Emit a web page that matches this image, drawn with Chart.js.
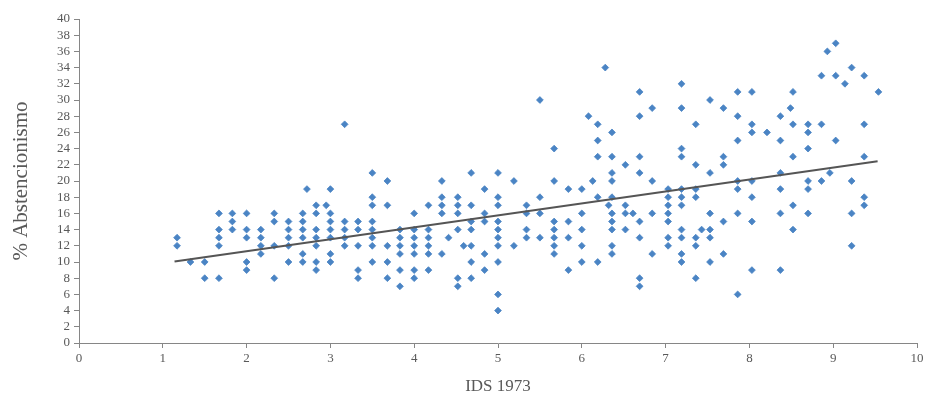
<!DOCTYPE html>
<html>
<head>
<meta charset="utf-8">
<script src="https://cdn.jsdelivr.net/npm/chart.js@4.4.1/dist/chart.umd.min.js"></script>
<style>
  body { margin: 0; background: #fff; }
</style>
</head>
<body>
<canvas id="scatter-chart" width="929" height="398"></canvas>
<script>
// IDS 1973 columns and the % abstencionismo values found at each one
const idsColumns = [1.17, 1.33, 1.5, 1.67, 1.83, 2.0, 2.17, 2.33, 2.5, 2.67,
                    2.72, 2.83, 2.95, 3.0, 3.17, 3.33, 3.5, 3.68, 3.83, 4.0,
                    4.17, 4.33, 4.41, 4.52, 4.59, 4.68, 4.84, 5.0, 5.19, 5.34,
                    5.5, 5.67, 5.84, 6.0, 6.08, 6.13, 6.19, 6.28, 6.32, 6.36,
                    6.52, 6.61, 6.69, 6.84, 7.03, 7.19, 7.36, 7.43, 7.53, 7.69,
                    7.86, 8.03, 8.21, 8.37, 8.49, 8.52, 8.7, 8.86, 8.93, 8.96,
                    9.03, 9.14, 9.22, 9.37, 9.54];
const abstByColumn = [
    [13, 12], [10], [10, 8], [16, 14, 13, 12, 8], [16, 15, 14],
    [16, 14, 13, 10, 9], [14, 13, 12, 11], [16, 15, 12, 8], [15, 14, 13, 12, 10], [16, 15, 14, 13, 11, 10],
    [19], [17, 16, 14, 13, 12, 10, 9], [17], [19, 16, 15, 14, 13, 11, 10], [27, 15, 14, 13, 12],
    [15, 14, 12, 9, 8], [21, 18, 17, 15, 14, 13, 12, 10], [20, 17, 12, 10, 8], [14, 13, 12, 11, 9, 7], [16, 14, 13, 12, 11, 9, 8],
    [17, 14, 13, 12, 11, 9], [20, 18, 17, 16, 11], [13], [18, 17, 16, 14, 8, 7], [12],
    [21, 17, 15, 14, 12, 10, 8], [19, 16, 15, 11, 9], [21, 18, 17, 15, 14, 13, 12, 10, 6, 4], [20, 12], [17, 16, 14, 13],
    [30, 18, 16, 13], [24, 20, 15, 14, 13, 12, 11], [19, 15, 13, 9], [19, 16, 14, 12, 10], [28],
    [20], [27, 25, 23, 18, 10], [34], [17], [26, 23, 21, 20, 18, 16, 15, 14, 12, 11],
    [22, 17, 16, 14], [16], [31, 28, 23, 21, 15, 13, 8, 7], [29, 20, 16, 11], [19, 18, 17, 16, 15, 13, 12],
    [32, 29, 24, 23, 19, 18, 17, 14, 13, 11, 10], [27, 22, 19, 18, 13, 12, 8], [14], [30, 21, 16, 14, 13, 10], [29, 23, 22, 15, 11],
    [31, 28, 25, 20, 19, 16, 6], [31, 27, 26, 20, 18, 15, 9], [26], [28, 25, 21, 19, 16, 9], [29],
    [31, 27, 23, 17, 14], [27, 26, 24, 20, 19, 16], [33, 27, 20], [36], [21],
    [37, 33, 25], [32], [34, 20, 16, 12], [33, 27, 23, 18, 17], [31]
];

// linear trend line ends
const trendX = [1.14, 9.53];
const trendY = [10.05, 22.45];

const xTicks = { min: 0, max: 10, step: 1 };
const yTicks = { min: 0, max: 40, step: 2 };

const points = [];
idsColumns.forEach((x, i) => {
    abstByColumn[i].forEach(y => points.push({x: x, y: y}));
});
const trend = trendX.map((x, i) => ({x: x, y: trendY[i]}));

const serif = "'Liberation Serif', 'Times New Roman', serif";
const grey = '#595959';
const axisGrey = '#868686';

new Chart(document.getElementById("scatter-chart"), {
    type: 'scatter',
    data: {
        datasets: [
            {
                label: 'Tendencia',
                data: trend,
                showLine: true,
                borderColor: '#555555',
                borderWidth: 2,
                pointRadius: 0,
                order: 0
            },
            {
                label: '% Abstencionismo',
                data: points,
                pointStyle: 'rectRot',
                pointRadius: 3.4,
                backgroundColor: '#4a84c4',
                borderColor: '#4a84c4',
                borderWidth: 0.8,
                order: 1
            }
        ]
    },
    options: {
        responsive: false,
        animation: false,
        devicePixelRatio: 1,
        layout: {padding: {top: 19, right: 12, left: 0, bottom: 0}},
        plugins: {
            legend: {display: false},
            tooltip: {enabled: false}
        },
        scales: {
            x: {
                type: 'linear',
                min: xTicks.min,
                max: xTicks.max,
                afterFit: s => { s.height = 55; },
                border: {color: axisGrey, width: 1},
                grid: {drawOnChartArea: false, color: axisGrey, tickLength: 5},
                ticks: {stepSize: xTicks.step, autoSkip: false, color: grey, padding: 3,
                        font: {family: serif, size: 13}},
                title: {display: true, text: 'IDS 1973', color: grey,
                        padding: {top: 0, bottom: 1},
                        font: {family: serif, size: 17}}
            },
            y: {
                type: 'linear',
                min: yTicks.min,
                max: yTicks.max,
                afterFit: s => { s.width = 79; },
                border: {color: axisGrey, width: 1},
                grid: {drawOnChartArea: false, color: axisGrey, tickLength: 5},
                ticks: {stepSize: yTicks.step, autoSkip: false, color: grey, padding: 4,
                        font: {family: serif, size: 13}},
                title: {display: true, text: '% Abstencionismo', color: grey,
                        padding: {top: 9, bottom: 0},
                        font: {family: serif, size: 21}}
            }
        }
    }
});
</script>
</body>
</html>
